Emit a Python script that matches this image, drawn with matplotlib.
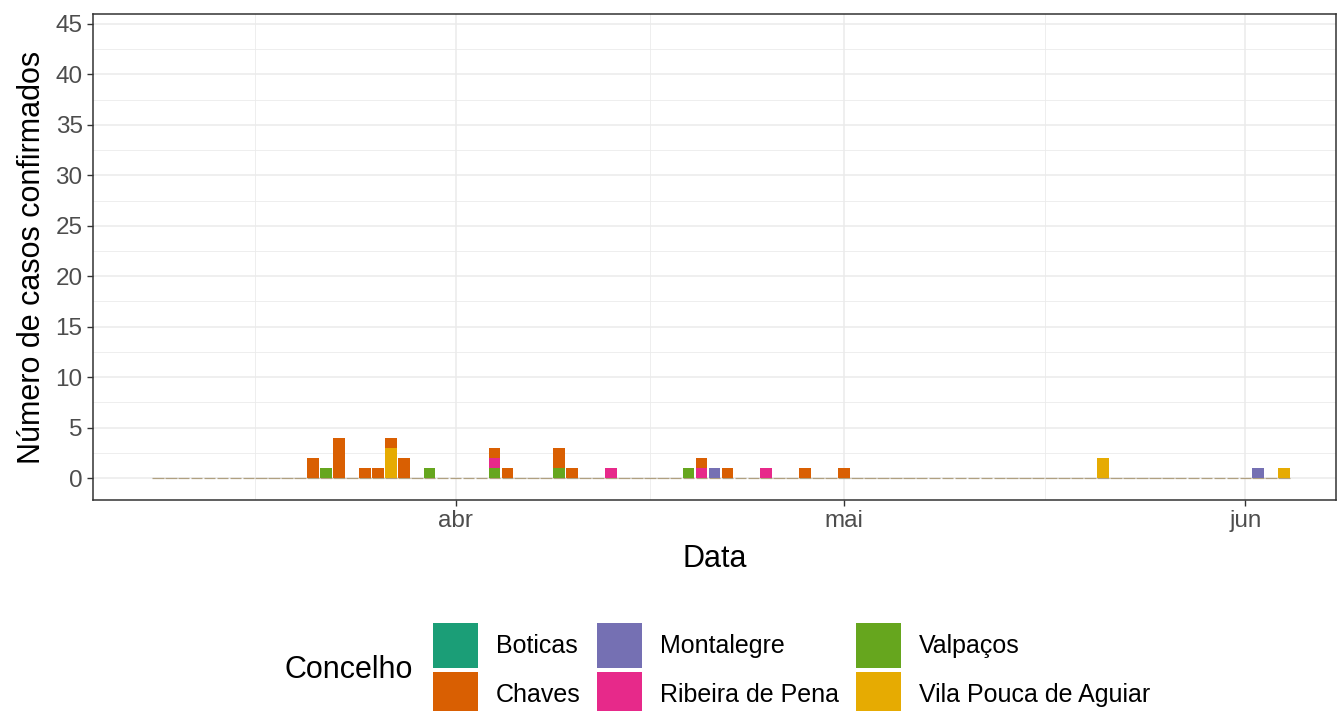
import numpy as np
import pandas as pd
import matplotlib
matplotlib.use("Agg")
import matplotlib.pyplot as plt
import matplotlib.dates as mdates
from matplotlib.patches import Patch

plt.rcParams['font.family'] = ['Liberation Sans', 'DejaVu Sans']

# concelhos (ordem da legenda) e cores Dark2
concelhos = ['Boticas', 'Chaves', 'Montalegre', 'Ribeira de Pena', 'Valpaços', 'Vila Pouca de Aguiar']
cores = ['#1B9E77', '#D95F02', '#7570B3', '#E7298A', '#66A61E', '#E6AB02']

# casos por dia (só dias com casos)
boticas_datas = []
boticas_n = []
chaves_datas = ['2020-03-21', '2020-03-23', '2020-03-25', '2020-03-26', '2020-03-27', '2020-03-28',
                '2020-04-04', '2020-04-05', '2020-04-09', '2020-04-10', '2020-04-20', '2020-04-22',
                '2020-04-28', '2020-05-01']
chaves_n = [2, 4, 1, 1, 1, 2, 1, 1, 2, 1, 1, 1, 1, 1]
montalegre_datas = ['2020-04-21', '2020-06-02']
montalegre_n = [1, 1]
ribeira_datas = ['2020-04-04', '2020-04-13', '2020-04-20', '2020-04-25']
ribeira_n = [1, 1, 1, 1]
valpacos_datas = ['2020-03-22', '2020-03-30', '2020-04-04', '2020-04-09', '2020-04-19']
valpacos_n = [1, 1, 1, 1, 1]
vpa_datas = ['2020-03-27', '2020-05-21', '2020-06-04']
vpa_n = [3, 2, 1]

inicio, fim = '2020-03-09', '2020-06-04'
meses = ['2020-03-01', '2020-04-01', '2020-05-01', '2020-06-01']
meses_lab = ['abr', 'mai', 'jun']

dias = pd.date_range(inicio, fim, freq='D')
series = [(boticas_datas, boticas_n), (chaves_datas, chaves_n), (montalegre_datas, montalegre_n),
          (ribeira_datas, ribeira_n), (valpacos_datas, valpacos_n), (vpa_datas, vpa_n)]
tab = pd.DataFrame(0, index=dias, columns=concelhos)
for nome, (d, n) in zip(concelhos, series):
    if d:
        tab.loc[pd.to_datetime(d), nome] = n

W, H = 1338, 711
fig = plt.figure(figsize=(W / 100, H / 100), dpi=100)
ax = fig.add_axes([93 / W, 1 - 500 / H, (1336 - 93) / W, (500 - 14) / H])

x = mdates.date2num(tab.index.to_pydatetime())
# linha de zeros
ax.bar(x, np.zeros(len(x)), width=0.9, bottom=0, color='none', edgecolor='#b0a080', linewidth=0.9, zorder=2)
# empilhamento: primeiro nível em cima
bottom = np.zeros(len(x))
for nome, cor in reversed(list(zip(concelhos, cores))):
    v = tab[nome].values.astype(float)
    ax.bar(x[v > 0], v[v > 0], width=0.9, bottom=bottom[v > 0], color=cor, linewidth=0, zorder=3)
    bottom += v

mx = mdates.date2num(pd.to_datetime(meses).to_pydatetime())
ax.set_xticks(mx[1:])
ax.set_xticklabels(meses_lab)
ax.set_xticks((mx[:-1] + mx[1:]) / 2, minor=True)
ax.set_yticks(np.arange(0, 46, 5))
ax.set_yticks(np.arange(2.5, 46, 5), minor=True)

ax.set_xlim(mdates.date2num(pd.Timestamp('2020-03-04')), mdates.date2num(pd.Timestamp('2020-06-08')))
ax.set_ylim(-2.18, 45.99)

ax.grid(which='major', color='#EBEBEB', linewidth=1.1, zorder=0)
ax.grid(which='minor', color='#EBEBEB', linewidth=0.6, zorder=0)
ax.set_axisbelow(True)
for s in ax.spines.values():
    s.set_color('#333333')
    s.set_linewidth(1.1)
ax.tick_params(which='major', length=4.5, width=1, color='#333333', labelcolor='#4D4D4D', labelsize=17.5, pad=3)
ax.tick_params(which='minor', length=0)

ax.set_xlabel('Data', fontsize=22, labelpad=8)
ax.set_ylabel('Número de casos confirmados', fontsize=22, labelpad=6)

handles = [Patch(facecolor=c, edgecolor='none', label=n) for n, c in zip(concelhos, cores)]
fs = 18
fpx = fs * 100 / 72
fig.legend(handles=handles, ncol=3, loc='upper left', bbox_to_anchor=(433 / W, 1 - 623 / H),
           frameon=False, fontsize=fs, borderpad=0, borderaxespad=0,
           handlelength=45 / fpx, handleheight=2.39, handletextpad=18 / fpx,
           labelspacing=4 / fpx, columnspacing=16.5 / fpx)
fig.text(285 / W, 1 - 670 / H, 'Concelho', fontsize=22, va='center', ha='left')

fig.savefig('out.png', dpi=100)
